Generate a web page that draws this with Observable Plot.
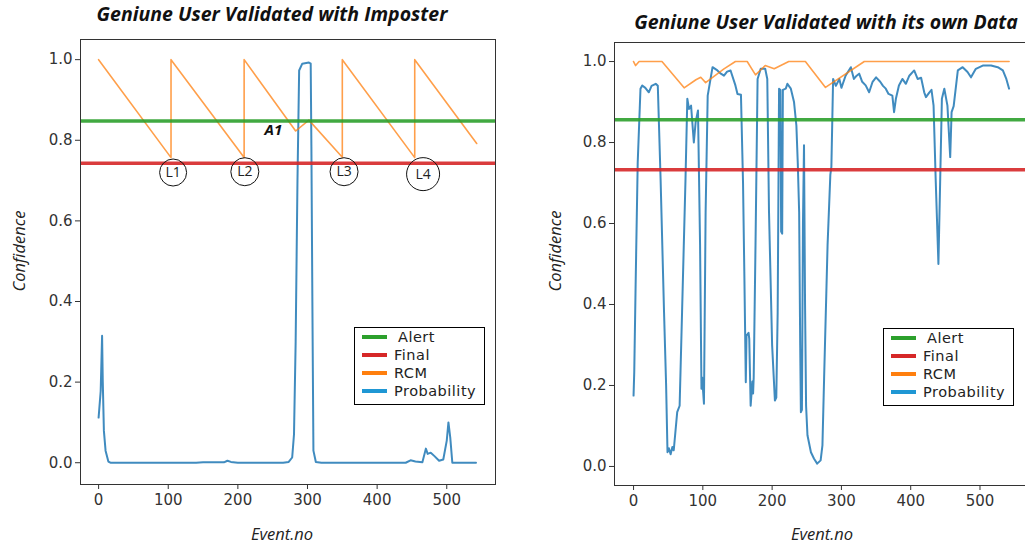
<!DOCTYPE html>
<html>
<head>
<meta charset="utf-8">
<script src="https://cdn.jsdelivr.net/npm/d3@7"></script>
<script src="https://cdn.jsdelivr.net/npm/@observablehq/plot@0.6"></script>
<style>
  html, body { margin: 0; padding: 0; background: #fff; overflow: hidden; }
  #root { position: relative; width: 1025px; height: 546px; overflow: hidden; background: #fff; }
  #root svg { position: absolute; overflow: visible; }
  .title { position: absolute; transform: translate(-50%, -50%); white-space: nowrap; line-height: 1;
    font-family: "Open Sans", sans-serif; font-weight: 700; font-style: italic; font-size: 19.5px; color: #111; }
  .axlab { position: absolute; transform: translate(-50%, -50%); white-space: nowrap; line-height: 1;
    font-family: "Open Sans", sans-serif; font-style: italic; font-size: 16.5px; color: #222; }
  .ylab { transform: translate(-50%, -50%) rotate(-90deg); }
  .legend { position: absolute; border: 1.5px solid #000; background: #fff; box-sizing: border-box; }
  .legend .sw { position: absolute; left: 7px; width: 25px; height: 4px; }
  .legend .lt { position: absolute; left: 39px; height: 15px; line-height: 15px; overflow: visible;
    font-family: "DejaVu Sans", sans-serif; font-size: 14.5px; letter-spacing: 0.5px; color: #222; white-space: nowrap; }
</style>
</head>
<body>
<div id="root"></div>
<script>
// ---------- data ----------
const titles = ["Geniune User Validated with Imposter", "Geniune User Validated with its own Data"];
const xLabel = "Event.no";
const yLabel = "Confidence";
const xTicks = [0, 100, 200, 300, 400, 500];
const yTicks = [0, 0.2, 0.4, 0.6, 0.8, 1.0];
const legendLabels = ["Alert", "Final", "RCM", "Probability"];

// left panel (imposter)
const leftAlert = 0.848;
const leftFinal = 0.743;
const leftRcmX = [0, 104, 104, 209, 209, 283, 302, 350, 350, 454, 454, 543];
const leftRcmY = [1.0, 0.757, 1.0, 0.757, 1.0, 0.823, 0.85, 0.758, 1.0, 0.757, 1.0, 0.792];
const leftProbX = [0, 3, 5, 6, 7.6, 10, 14, 17, 60, 140, 150, 180, 185, 190, 200, 265, 273, 278, 280.6, 283, 285.6, 288, 292.5, 302, 304.6, 305.6, 307, 308.5, 312, 320, 400, 441, 448, 455, 465, 470, 472.6, 477, 482, 489, 495, 500, 502.4, 505, 508, 542];
const leftProbY = [0.112, 0.178, 0.315, 0.2, 0.079, 0.03, 0.003, 0.0, 0.0, 0.0, 0.001, 0.001, 0.005, 0.002, 0, 0, 0.002, 0.013, 0.07, 0.3, 0.7, 0.973, 0.99, 0.993, 0.99, 0.784, 0.4, 0.03, 0.002, 0, 0, 0, 0.006, 0.003, 0.001, 0.035, 0.022, 0.025, 0.017, 0.005, 0.008, 0.055, 0.1, 0.063, 0.0, 0.0];
const markLabels = ["L1", "L2", "L3", "L4"];
const markX = [107, 210, 352.5, 466];
const markY = [0.72, 0.722, 0.722, 0.716];
const markR = [13.5, 14, 14, 16.5];
const alertMarkLabel = "A1";
const alertMarkX = 251;
const alertMarkY = 0.824;

// right panel (own data)
const rightAlert = 0.856;
const rightFinal = 0.733;
const rightRcmX = [0, 3, 8, 41, 73, 90, 97, 104, 130.5, 147, 164, 176, 190, 203, 224, 248, 277, 333, 542];
const rightRcmY = [1.0, 0.99, 1.0, 1.0, 0.935, 0.955, 0.961, 0.948, 0.982, 1.0, 1.0, 0.967, 0.99, 0.982, 1.0, 1.0, 0.936, 1.0, 1.0];
const rightProbX = [0, 1, 3, 6, 10, 12.5, 17, 22, 26, 32, 35, 39, 44, 47, 49, 51, 53.5, 56, 58, 63, 66.5, 70, 75, 77.6, 80, 83, 87, 89.6, 93, 96, 98, 99, 101.6, 104, 107, 114, 121, 126, 130.5, 135, 140, 147, 150, 155, 158, 160, 162, 163, 166, 167, 169, 171.5, 172.5, 173.4, 176, 179, 183.5, 190, 193, 195.5, 200, 204, 206, 208, 210, 212, 213, 214.5, 215.5, 219.7, 222, 227, 231.6, 235, 237, 239, 240.5, 241.5, 243, 244.5, 246, 247.5, 249, 251, 256, 260.5, 265, 270, 272.6, 275, 280, 284, 285.5, 288, 292, 297, 300, 306, 313.6, 318, 322, 325.6, 330, 335, 340, 345, 350, 356, 360, 364, 368, 373.5, 376, 378.6, 383, 388, 393, 398, 405, 410, 415, 419.5, 422, 427, 430, 433, 436, 440, 442.6, 445, 448.5, 453, 457, 459, 462, 468, 475, 482, 487, 494, 504, 516, 525.6, 533, 538, 542];
const rightProbY = [0.175, 0.233, 0.45, 0.75, 0.933, 0.941, 0.935, 0.924, 0.94, 0.945, 0.94, 0.711, 0.381, 0.2, 0.035, 0.045, 0.03, 0.048, 0.04, 0.134, 0.15, 0.381, 0.711, 0.908, 0.883, 0.891, 0.80, 0.85, 0.879, 0.546, 0.192, 0.22, 0.155, 0.628, 0.916, 0.986, 0.978, 0.97, 0.965, 0.975, 0.978, 0.941, 0.92, 0.918, 0.7, 0.463, 0.208, 0.323, 0.33, 0.315, 0.15, 0.21, 0.18, 0.22, 0.546, 0.957, 0.982, 0.982, 0.957, 0.628, 0.299, 0.163, 0.17, 0.381, 0.933, 0.93, 0.58, 0.575, 0.93, 0.933, 0.945, 0.933, 0.9, 0.842, 0.75, 0.628, 0.3, 0.134, 0.14, 0.6, 0.793, 0.4, 0.15, 0.077, 0.035, 0.019, 0.007, 0.015, 0.052, 0.217, 0.546, 0.72, 0.74, 0.957, 0.94, 0.957, 0.935, 0.965, 0.986, 0.957, 0.965, 0.97, 0.95, 0.941, 0.924, 0.95, 0.961, 0.95, 0.94, 0.933, 0.92, 0.916, 0.875, 0.908, 0.941, 0.957, 0.945, 0.965, 0.978, 0.957, 0.96, 0.924, 0.912, 0.924, 0.93, 0.891, 0.711, 0.50, 0.711, 0.908, 0.933, 0.891, 0.764, 0.875, 0.89, 0.978, 0.986, 0.974, 0.961, 0.982, 0.99, 0.99, 0.986, 0.978, 0.957, 0.933];

// ---------- styling ----------
const C = { alert: "#2ca02c", final: "#d62728", rcm: "#ff7f0e", prob: "#1f77b4" };
const legendColors = [C.alert, C.final, C.rcm, "#1f97d4"];
const zip = (xs, ys) => xs.map((x, i) => ({ x, y: ys[i] }));
const root = document.getElementById("root");

function panel(cfg) {
  const marks = [
    Plot.line(zip(cfg.probX, cfg.probY), { x: "x", y: "y", stroke: C.prob, strokeWidth: 2, strokeOpacity: 0.85, curve: "linear" }),
    Plot.line(zip(cfg.rcmX, cfg.rcmY), { x: "x", y: "y", stroke: C.rcm, strokeWidth: 1.6, strokeOpacity: 0.75 }),
    Plot.ruleY([cfg.alert], { stroke: C.alert, strokeWidth: 3.5, strokeOpacity: 0.9 }),
    Plot.ruleY([cfg.final], { stroke: C.final, strokeWidth: 3.5, strokeOpacity: 0.9 }),
    Plot.frame({ stroke: "#333", strokeWidth: 1 })
  ];
  if (cfg.annot) {
    const ann = markLabels.map((t, i) => ({ t, x: markX[i], y: markY[i], r: markR[i] }));
    marks.push(
      Plot.dot(ann, { x: "x", y: "y", r: "r", stroke: "#111", strokeWidth: 1, fill: "none" }),
      Plot.text(ann, { x: "x", y: "y", text: "t", fontSize: 14, fill: "#222", fontFamily: "Open Sans" }),
      Plot.text([alertMarkLabel], { x: alertMarkX, y: alertMarkY, text: d => d, fontSize: 15, fontWeight: "bold", fontStyle: "italic", fill: "#111", fontFamily: "Open Sans" })
    );
  }
  const svg = Plot.plot({
    width: cfg.width, height: 546,
    marginLeft: cfg.ml, marginRight: cfg.mr, marginTop: cfg.mt, marginBottom: cfg.mb,
    x: { domain: cfg.xd, ticks: xTicks, tickSize: 5, tickPadding: 5, label: null },
    y: { domain: cfg.yd, ticks: yTicks, tickSize: 5, tickPadding: 3, tickFormat: d3.format(".1f"), label: null },
    r: { type: "identity" },
    style: { fontFamily: "DejaVu Sans", fontSize: "15px", color: "#333", background: "transparent" },
    marks
  });
  svg.style.left = cfg.left + "px";
  svg.style.top = "0px";
  root.appendChild(svg);

  const t = document.createElement("div");
  t.className = "title"; t.textContent = cfg.title;
  t.style.left = cfg.tx + "px"; t.style.top = cfg.ty + "px";
  root.appendChild(t);

  const xl = document.createElement("div");
  xl.className = "axlab"; xl.textContent = xLabel;
  xl.style.left = cfg.xlx + "px"; xl.style.top = "534px";
  root.appendChild(xl);

  const yl = document.createElement("div");
  yl.className = "axlab ylab"; yl.textContent = yLabel;
  yl.style.left = cfg.ylx + "px"; yl.style.top = "251px";
  root.appendChild(yl);

  const lg = document.createElement("div");
  lg.className = "legend";
  lg.style.left = cfg.lgx + "px"; lg.style.top = cfg.lgy + "px";
  lg.style.width = "131px"; lg.style.height = "78px";
  const rowCenters = [9, 27, 45, 63];
  legendLabels.forEach((name, i) => {
    const sw = document.createElement("div");
    sw.className = "sw"; sw.style.background = legendColors[i];
    sw.style.top = (rowCenters[i] - 2) + "px";
    const tx = document.createElement("div");
    tx.className = "lt";
    tx.textContent = name;
    tx.style.top = (rowCenters[i] - 7.5) + "px";
    if (i === 0) tx.style.left = "43px";
    lg.appendChild(sw); lg.appendChild(tx);
  });
  root.appendChild(lg);
}

panel({
  left: 0, width: 510, ml: 80, mr: 15, mt: 39, mb: 62,
  xd: [-26, 570], yd: [-0.054, 1.05],
  probX: leftProbX, probY: leftProbY, rcmX: leftRcmX, rcmY: leftRcmY,
  alert: leftAlert, final: leftFinal, annot: true,
  title: titles[0], tx: 272, ty: 14, xlx: 282, ylx: 19, lgx: 354, lgy: 327
});
panel({
  left: 510, width: 520, ml: 104, mr: 2, mt: 42, mb: 61,
  xd: [-27.5, 570], yd: [-0.047, 1.047],
  probX: rightProbX, probY: rightProbY, rcmX: rightRcmX, rcmY: rightRcmY,
  alert: rightAlert, final: rightFinal, annot: false,
  title: titles[1], tx: 826, ty: 22, xlx: 822, ylx: 555, lgx: 883, lgy: 328
});
</script>
</body>
</html>
